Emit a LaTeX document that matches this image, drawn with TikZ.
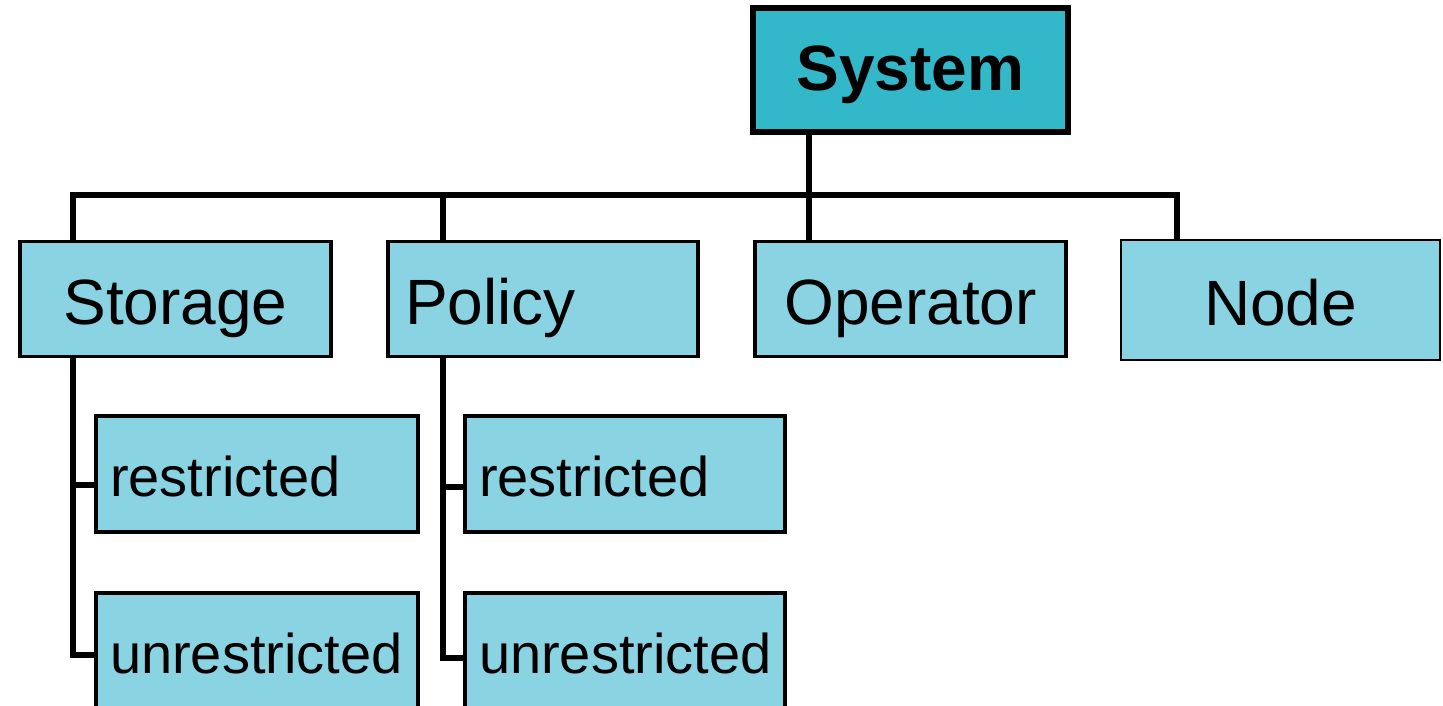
\documentclass[tikz,border=0pt]{standalone}
\usepackage{fontspec}
\setmainfont{Liberation Sans}
\definecolor{boxfill}{RGB}{138,211,226}
\definecolor{topfill}{RGB}{50,184,201}

\begin{document}
\begin{tikzpicture}[x=1pt,y=-1pt,
  box/.style={draw=black,line width=3.5pt,fill=boxfill,inner sep=0pt,
    minimum width=311pt,minimum height=115pt,text height=51pt,text depth=0pt,
    font=\fontsize{64}{70}\selectfont},
  subbox/.style={box,minimum width=322pt,minimum height=116pt,text width=294pt,
    text height=45pt,align=left,font=\fontsize{56}{62}\selectfont},
  bar/.style={line width=6pt}]
  \useasboundingbox (0,0) rectangle (1443,706);
  \clip (0,0) rectangle (1443,706);
  \def\top{299};
  \def\ra{474};
  \def\rb{651};
  %top
  \node[box,fill=topfill,line width=6.5pt,minimum width=315pt,minimum height=124pt,
    text height=41pt,font=\fontsize{64}{70}\selectfont\bfseries] (sys) at (910.5,70) {System};
  %first level
  \node[box] (sto) at (175.5,\top) {Storage};
  \node[box,minimum width=310pt,text width=276pt,align=left] (pol) at (543,\top) {Policy};
  \node[box] (op) at (910.5,\top) {Operator};
  \node[box,line width=2.5pt,minimum width=319pt,minimum height=120pt] (nd) at (1280.5,300) {Node};
  %second level
  \node[subbox] (resS) at (257,\ra) {restricted};
  \node[subbox] (unrS) at (257,\rb) {unrestricted};
  \node[subbox,minimum width=320pt,text width=292pt] (resP) at (625,\ra) {restricted};
  \node[subbox,minimum width=320pt,text width=292pt] (unrP) at (625,\rb) {unrestricted};
  %bus
  \coordinate (busL) at (73,195);
  \coordinate (busR) at (1177,195);
  \coordinate (polx) at (443,195);
  \coordinate (opx) at (809,195);
  \draw[bar] (sto.north -| busL) -- (busL) -- (busR) -- (nd.north -| busR);
  \draw[bar] (polx) -- (pol.north -| polx);
  \draw[bar] (sys.south -| opx) -- (op.north -| opx);
  %branches
  \coordinate (sa) at (73,485);
  \coordinate (sb) at (73,655);
  \coordinate (pa) at (443,487);
  \coordinate (pb) at (443,658);
  \draw[bar] (sto.south -| sa) -- (sb) -- (unrS.west |- sb);
  \draw[bar] (sa) -- (resS.west |- sa);
  \draw[bar] (pol.south -| pa) -- (pb) -- (unrP.west |- pb);
  \draw[bar] (pa) -- (resP.west |- pa);
\end{tikzpicture}
\end{document}
